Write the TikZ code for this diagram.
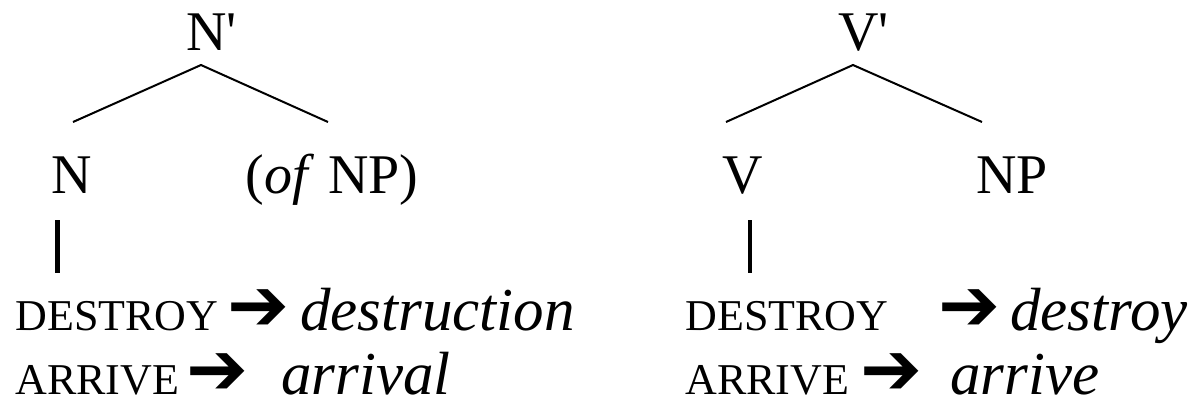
\documentclass[tikz,border=0pt]{standalone}
\usepackage{fontspec}
\setmainfont{Liberation Serif}
\newfontfamily\arrowfont{DejaVu Sans}
\usetikzlibrary{positioning}

\begin{document}
\begin{tikzpicture}[x=0.5pt, y=-0.5pt,
    cat/.style={inner sep=0pt, anchor=base west, font=\fontsize{28}{30}\selectfont},
    lex/.style={inner sep=0pt, anchor=base west, font=\fontsize{22}{24}\selectfont},
    word/.style={inner sep=0pt, anchor=base west, font=\fontsize{30.5}{32}\selectfont\itshape},
    arr/.style={inner sep=0pt, anchor=west, font=\fontsize{37}{38}\selectfont\arrowfont},
    branch/.style={line width=1pt},
    stem/.style={line width=2.2pt}
]
    \useasboundingbox (0,0) rectangle (1196,403);

    % N-bar tree
    \node[cat] (nbar) at (186,50) {N\textquotesingle};
    \coordinate (nbar-root) at (201,65);
    \coordinate (n-top) at (73,122);
    \coordinate (ofnp-top) at (328,122);
    \node[cat] (n) at (51,193) {N};
    \node[cat] (ofnp) at (245,193) {(\textit{of}~NP)};
    \draw[branch] (n-top) -- (nbar-root) -- (ofnp-top);
    \coordinate (n-stem) at (57.5,220);
    \coordinate (n-stem-end) at (57.5,273);
    \draw[stem] (n-stem) -- (n-stem-end);

    % nominal forms
    \node[lex] (destroy-n) at (15,330) {DESTROY};
    \node[arr] (arrow-dn) at (227,310) {➔};
    \node[word] (destruction) at (300,330) {destruction};
    \node[lex] (arrive-n) at (15,394) {ARRIVE};
    \node[arr] (arrow-an) at (186,374) {➔};
    \node[word] (arrival) at (281,394) {arrival};

    % V-bar tree
    \node[cat] (vbar) at (838,50) {V\textquotesingle};
    \coordinate (vbar-root) at (853,65);
    \coordinate (v-top) at (726,122);
    \coordinate (np-top) at (982,122);
    \node[cat] (v) at (722,193) {V};
    \node[cat] (np) at (976,193) {NP};
    \draw[branch] (v-top) -- (vbar-root) -- (np-top);
    \coordinate (v-stem) at (750,220);
    \coordinate (v-stem-end) at (750,273);
    \draw[stem] (v-stem) -- (v-stem-end);

    % verbal forms
    \node[lex] (destroy-v) at (685,330) {DESTROY};
    \node[arr] (arrow-dv) at (938,310) {➔};
    \node[word] (destroy) at (1010,330) {destroy};
    \node[lex] (arrive-v) at (685,394) {ARRIVE};
    \node[arr] (arrow-av) at (860,374) {➔};
    \node[word] (arrive) at (950,394) {arrive};
\end{tikzpicture}
\end{document}
